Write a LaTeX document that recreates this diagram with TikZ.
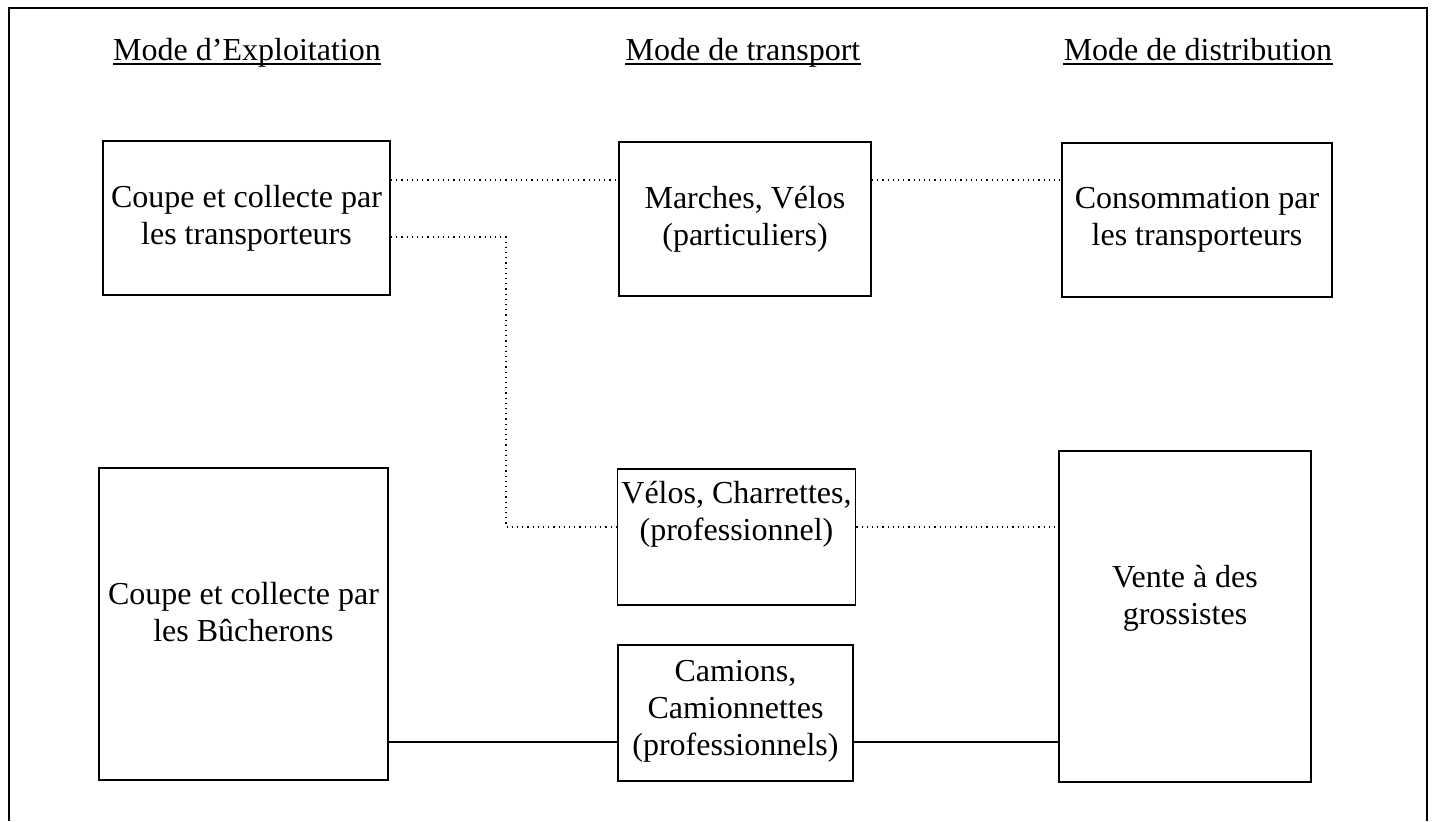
\documentclass[tikz,border=0pt]{standalone}
\usepackage{fontspec}
\setmainfont{Liberation Serif}
\usepackage{tikz}

\begin{document}
\begin{tikzpicture}[x=0.5pt,y=-0.5pt,
  box/.style={draw,line width=0.9pt,align=center,inner sep=2pt,font=\fontsize{16}{18.5}\selectfont},
  head/.style={inner sep=0pt,font=\fontsize{16}{18.5}\selectfont},
  link/.style={dotted,line width=0.6pt},
  road/.style={line width=1pt}]
\useasboundingbox (0,0) rectangle (1432,821);

% Draw outer frame
\draw[line width=1pt] (9,821) -- (9,8) -- (1427,8) -- (1427,821);

% Column titles
\node[head,anchor=base] (hexp) at (247,60) {Mode d'Exploitation};
\node[head,anchor=base] (htra) at (743,60) {Mode de transport};
\node[head,anchor=base] (hdis) at (1198,60) {Mode de distribution};
\foreach \h in {hexp,htra,hdis}
  \draw[line width=0.6pt] ([yshift=-2pt]\h.base west) -- ([yshift=-2pt]\h.base east);

% Draw boxes
\node[box,minimum width=143.5pt,minimum height=77pt] (coupeT) at (246.5,218) {Coupe et collecte par\\les transporteurs};
\node[box,minimum width=126pt,minimum height=77pt] (marche) at (745,219) {Marches, Vélos\\(particuliers)};
\node[box,minimum width=135pt,minimum height=77pt] (conso) at (1197,220) {Consommation par\\les transporteurs};
\node[box,minimum width=144.5pt,minimum height=156pt,text depth=12pt] (coupeB) at (243.5,624) {Coupe et collecte par\\les Bûcherons};
\node[box,minimum width=117.5pt,minimum height=68pt,text depth=26pt] (velos) at (736.5,537) {Vélos, Charrettes,\\(professionnel)};
\node[box,minimum width=117.5pt,minimum height=68pt,text depth=5pt] (camion) at (735.5,713) {Camions,\\Camionnettes\\(professionnels)};
\node[box,minimum width=126pt,minimum height=165.5pt,text depth=22pt] (vente) at (1185,616.5) {Vente à des\\grossistes};

% Dotted links
\coordinate (k1) at ([yshift=19pt]coupeT.east);
\draw[link] (k1) -- (k1 -| marche.west);
\draw[link] (k1 -| marche.east) -- (k1 -| conso.west);
\coordinate (k2) at ([yshift=-9.5pt]coupeT.east);
\coordinate (k3) at ([yshift=5pt]velos.west);
\coordinate (bend) at (506,0);
\draw[link] (k2) -| (bend |- k3) -- (k3);
\draw[link] (k3 -| velos.east) -- (k3 -| vente.west);

% Solid links
\coordinate (k4) at ([yshift=-59pt]coupeB.east);
\draw[road] (k4) -- (k4 -| camion.west);
\draw[road] (k4 -| camion.east) -- (k4 -| vente.west);
\end{tikzpicture}
\end{document}
